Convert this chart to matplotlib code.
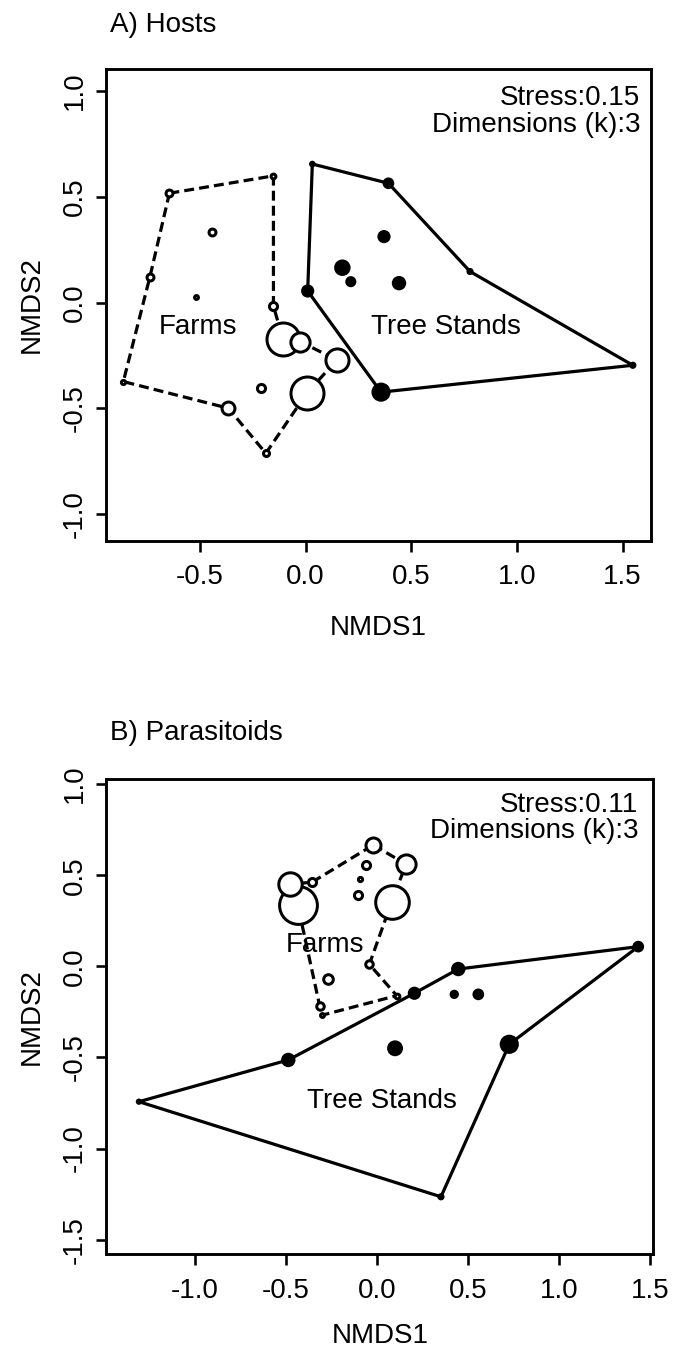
import numpy as np
import matplotlib
matplotlib.use('Agg')
import matplotlib.pyplot as plt

plt.rcParams['font.family'] = ['Liberation Sans', 'DejaVu Sans']
plt.rcParams['font.size'] = 20
plt.rcParams['axes.unicode_minus'] = False

# NMDS site scores, hosts. Point size (cex) scales with abundance.
# The first entries of each group are the polygon vertices, in drawing order.
host_farm_x = [-0.644, -0.152, -0.152, -0.108, -0.026, 0.148, 0.006, -0.188, -0.365, -0.862, -0.736,
               -0.444, -0.518, -0.210]
host_farm_y = [0.517, 0.599, -0.016, -0.170, -0.184, -0.271, -0.428, -0.712, -0.499, -0.373, 0.123,
               0.336, 0.028, -0.405]
host_farm_cex = [1.45, 1.1, 1.65, 5.8, 3.5, 4.15, 5.8, 1.3, 2.45, 1.0, 1.45,
                 1.45, 0.95, 1.65]
host_farm_ring = 11

host_tree_x = [0.032, 0.392, 0.778, 1.548, 0.357, 0.010, 0.371, 0.174, 0.214, 0.442]
host_tree_y = [0.655, 0.564, 0.147, -0.296, -0.423, 0.055, 0.312, 0.165, 0.099, 0.092]
host_tree_cex = [0.9, 1.75, 1.0, 1.0, 3.0, 2.0, 2.0, 2.55, 1.65, 2.2]
host_tree_ring = 6

# NMDS site scores, parasitoids
para_farm_x = [-0.020, 0.159, 0.081, -0.042, 0.108, -0.304, -0.315, -0.435, -0.477, -0.358,
               -0.060, -0.093, -0.106, -0.271]
para_farm_y = [0.666, 0.560, 0.355, 0.011, -0.161, -0.269, -0.216, 0.336, 0.452, 0.461,
               0.556, 0.479, 0.391, -0.071]
para_farm_cex = [2.8, 3.5, 5.9, 1.55, 1.1, 0.95, 1.55, 6.6, 4.2, 1.65,
                 1.65, 1.0, 1.65, 1.9]
para_farm_ring = 10

para_tree_x = [-1.307, -0.487, 0.205, 0.446, 1.434, 0.726, 0.351, 0.099, 0.424, 0.556]
para_tree_y = [-0.743, -0.514, -0.148, -0.015, 0.108, -0.428, -1.265, -0.450, -0.154, -0.154]
para_tree_cex = [0.85, 2.2, 2.0, 2.2, 1.75, 3.0, 1.0, 2.45, 1.35, 1.75]
para_tree_ring = 7

stress_hosts = 0.15
stress_para = 0.11
dims = 3

PX = 0.72  # points per pixel at dpi 100
LW = 3.2 * PX
RING = 3.0  # open circle edge width, px


def draw_group(ax, xs, ys, cex, ring, filled, dashed):
    xs = np.asarray(xs)
    ys = np.asarray(ys)
    px_ = np.append(xs[:ring], xs[0])
    py_ = np.append(ys[:ring], ys[0])
    ls = (0, (3.1, 1.6)) if dashed else '-'
    ax.plot(px_, py_, color='black', lw=LW, ls=ls, zorder=2, solid_joinstyle='miter')
    radius = 3.0 * np.asarray(cex) + 0.6
    if filled:
        s = (2 * radius * PX) ** 2
        ax.scatter(xs, ys, s=s, c='black', edgecolors='none', zorder=3)
    else:
        s = (2 * (radius - RING / 2) * PX) ** 2
        for xi, yi, si in zip(xs, ys, s):
            ax.scatter([xi], [yi], s=si, facecolors='white', edgecolors='black',
                       linewidths=RING * PX, zorder=4)


def style_axes(ax, xlim, ylim, xticks, yticks, xlab_y, ylab_x):
    ax.set_xlim(*xlim)
    ax.set_ylim(*ylim)
    ax.set_xticks(xticks)
    ax.set_yticks(yticks)
    ax.set_xticklabels(['%.1f' % v for v in xticks])
    ax.set_yticklabels(['%.1f' % v for v in yticks], rotation=90, va='center')
    for sp in ax.spines.values():
        sp.set_linewidth(2.9 * PX)
    ax.tick_params(direction='out', length=10.5 * PX, width=2.6 * PX)
    ax.tick_params(axis='x', pad=9.5)
    ax.tick_params(axis='y', pad=5.6)
    ax.set_xlabel('NMDS1', va='center')
    ax.set_ylabel('NMDS2', rotation=90, va='center', ha='center', rotation_mode='default')
    ax.xaxis.set_label_coords(0.5, xlab_y)
    ax.yaxis.set_label_coords(ylab_x, 0.5)


fig = plt.figure(figsize=(6.75, 13.51), dpi=100)

# A) Hosts
axA = fig.add_axes([106 / 675, 1 - 540.7 / 1351, 545 / 675, 471.7 / 1351])
draw_group(axA, host_tree_x, host_tree_y, host_tree_cex, host_tree_ring, True, False)
draw_group(axA, host_farm_x, host_farm_y, host_farm_cex, host_farm_ring, False, True)
axA.text(-0.511, -0.115, 'Farms', ha='center', va='center', zorder=5)
axA.text(0.662, -0.115, 'Tree Stands', ha='center', va='center', zorder=5)
axA.text(0.980, 0.938, 'Stress:%.2f' % stress_hosts, transform=axA.transAxes, ha='right', va='center')
axA.text(0.980, 0.882, 'Dimensions (k):%d' % dims, transform=axA.transAxes, ha='right', va='center')
style_axes(axA, (-0.944, 1.634), (-1.125, 1.104),
           [-0.5, 0.0, 0.5, 1.0, 1.5], [-1.0, -0.5, 0.0, 0.5, 1.0], -0.185, -0.136)
fig.text(110 / 675, 1 - 25 / 1351, 'A) Hosts', ha='left', va='center')

# B) Parasitoids
axB = fig.add_axes([106.5 / 675, 1 - 1254 / 1351, 546.5 / 675, 475 / 1351])
draw_group(axB, para_tree_x, para_tree_y, para_tree_cex, para_tree_ring, True, False)
draw_group(axB, para_farm_x, para_farm_y, para_farm_cex, para_farm_ring, False, True)
axB.text(-0.283, 0.117, 'Farms', ha='center', va='center', zorder=5)
axB.text(0.027, -0.739, 'Tree Stands', ha='center', va='center', zorder=5)
axB.text(0.973, 0.945, 'Stress:%.2f' % stress_para, transform=axB.transAxes, ha='right', va='center')
axB.text(0.973, 0.890, 'Dimensions (k):%d' % dims, transform=axB.transAxes, ha='right', va='center')
style_axes(axB, (-1.485, 1.515), (-1.579, 1.028),
           [-1.0, -0.5, 0.0, 0.5, 1.0, 1.5], [-1.5, -1.0, -0.5, 0.0, 0.5, 1.0], -0.173, -0.136)
fig.text(110 / 675, 1 - 733 / 1351, 'B) Parasitoids', ha='left', va='center')

fig.savefig('out.png', dpi=100)
